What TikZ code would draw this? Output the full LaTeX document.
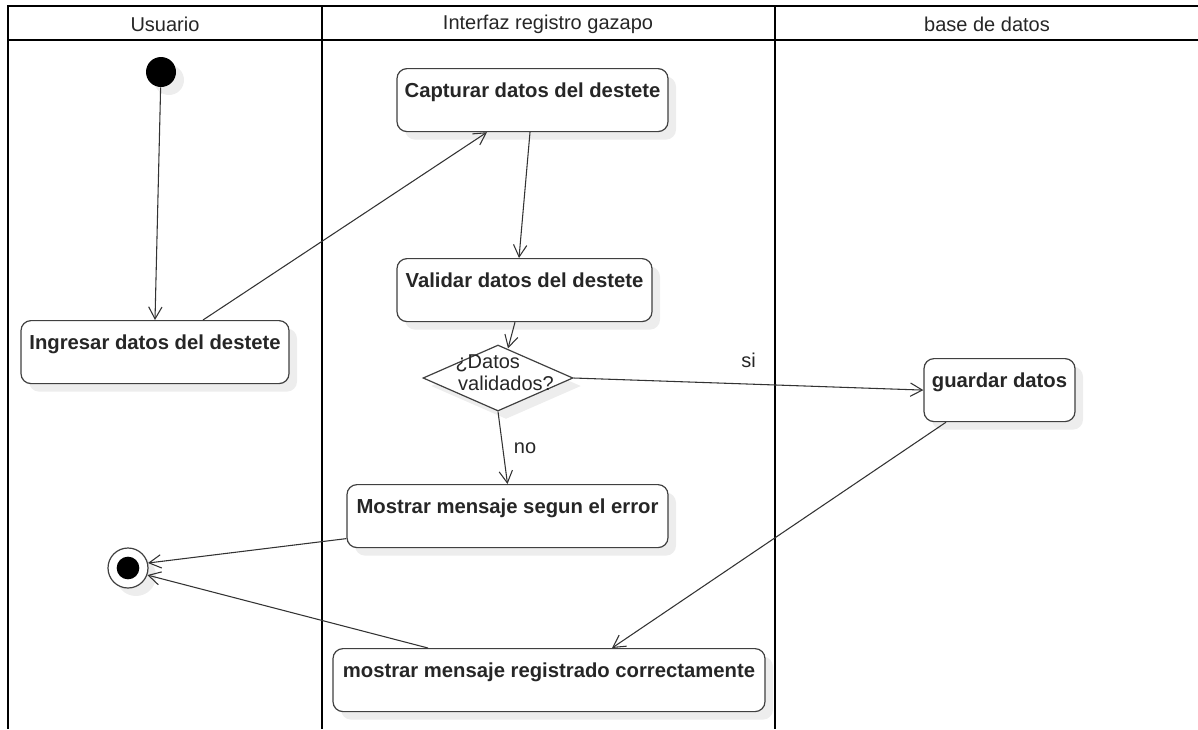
\documentclass[tikz,border=0pt]{standalone}
\usepackage{fontspec}
\setmainfont{Liberation Sans}
\usepackage{tikz}
\usetikzlibrary{shapes.geometric, shadows, arrows.meta, calc}

\begin{document}
\begin{tikzpicture}[x=0.75pt, y=-0.75pt,
        every node/.style={font=\fontsize{15pt}{14pt}\selectfont, text=black!85},
        lane/.style={line width=1.9pt, draw=black},
        sombra/.style={drop shadow={shadow xshift=6pt, shadow yshift=-6pt, fill=black!7, opacity=1}},
        actividad/.style={rectangle, rounded corners=7.5pt, draw=black!75, line width=0.9pt, fill=white,
            sombra, anchor=north, inner sep=0pt, text height=21.75pt, text depth=25.5pt,
            font=\fontsize{15.2pt}{14pt}\selectfont\bfseries},
        flujo/.style={draw=black!80, line width=0.8pt, -{Straight Barb[length=9pt, width=10pt]}}]
        \useasboundingbox (0,0) rectangle (1198,729);

        % carriles
        \draw[lane] (1198,6) -- (8,6) -- (8,729);
        \draw[lane] (8,40) -- (1198,40);
        \draw[lane] (322,6) -- (322,729);
        \draw[lane] (775,6) -- (775,729);
        \node (usuario) at (165,24) {Usuario};
        \node (interfaz) at (548,24) {Interfaz registro gazapo};
        \node (base) at (987,24) {base de datos};

        \node[circle, fill=black, minimum size=22.5pt, inner sep=0pt, sombra] (inicio) at (161,72) {};
        \node[actividad, minimum width=201pt] (ingresar) at (155,320) {Ingresar datos del destete};
        \node[actividad, minimum width=203.25pt] (capturar) at (532.5,68) {Capturar datos del destete};
        \node[actividad, minimum width=191.25pt] (validar) at (524.5,258) {Validar datos del destete};
        \node[diamond, draw=black!75, line width=0.9pt, fill=white, sombra, minimum width=112.5pt,
            minimum height=49.5pt, inner sep=0pt,
            label={[align=left, font=\fontsize{15pt}{16.5pt}\selectfont, xshift=5pt, yshift=4pt]center:¿Datos\\\hspace{2pt}validados?}] (decision) at (498,378) {};
        \node[actividad, minimum width=113.25pt] (guardar) at (999.5,358) {guardar datos};
        \node[actividad, minimum width=240.75pt] (error) at (507.5,484) {Mostrar mensaje segun el error};
        \node[actividad, minimum width=324pt] (registrado) at (549,648) {mostrar mensaje registrado correctamente};
        \node[circle, draw=black!75, line width=0.9pt, fill=white, minimum size=30pt, sombra,
            path picture={\fill[black] (path picture bounding box.center) circle (8.5pt);}] (fin) at (128,568) {};

        \draw[flujo] (inicio) -- (ingresar.north);
        \draw[flujo] ($(ingresar.north)+(48,0)$) -- ($(capturar.south)+(-45.5,0)$);
        \draw[flujo] ($(capturar.south)+(-2.5,0)$) -- ($(validar.north)+(-5.5,0)$);
        \draw[flujo] ($(validar.south)+(-9.5,0)$) -- ($(decision.north)+(10,4)$);
        \draw[flujo] (decision.east) -- node[pos=0.5, above=12pt, inner sep=0pt] {si} (guardar.west);
        \draw[flujo] (decision.south) -- node[right=8pt, inner sep=0pt] {no} (error.north);
        \draw[flujo] ($(error.west)+(0,22.5)$) -- (fin.14);
        \draw[flujo] ($(guardar.south)+(-53.5,0)$) -- ($(registrado.north)+(63,0)$);
        \draw[flujo] ($(registrado.north)+(-121,0)$) -- (fin.-20);
    \end{tikzpicture}
\end{document}
